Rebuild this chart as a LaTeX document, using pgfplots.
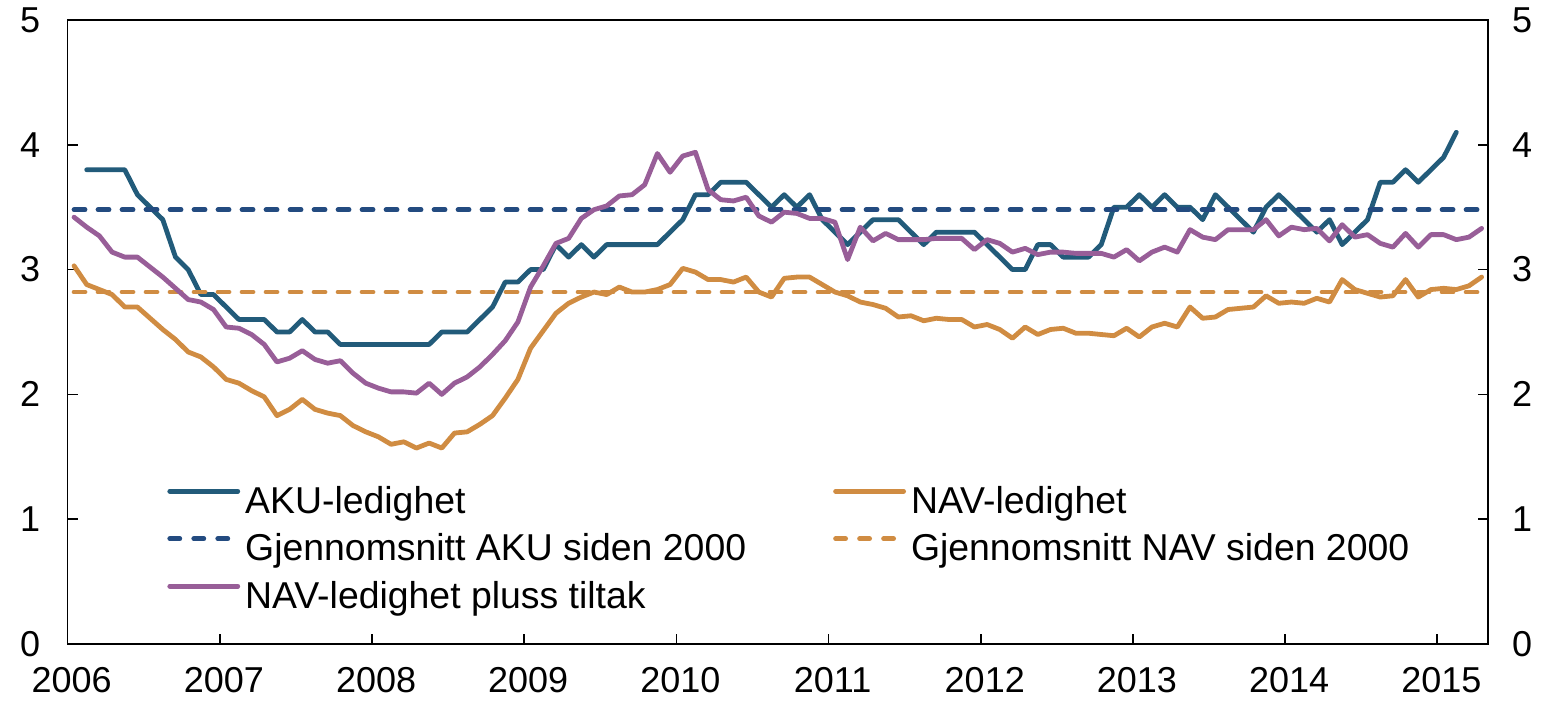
\documentclass[border=0pt]{standalone}
\usepackage{pgfplots}
\usepackage{pgfplotstable}
\pgfplotsset{compat=1.18}
\usepackage{fontspec}
\setmainfont{Liberation Sans}
\definecolor{aku}{HTML}{225B7A}
\definecolor{akuavg}{HTML}{234B80}
\definecolor{nav}{HTML}{D08C42}
\definecolor{tiltak}{HTML}{985E98}

\pgfplotstableread{
i v
1 3.8
2 3.8
3 3.8
4 3.8
5 3.6
6 3.5
7 3.4
8 3.1
9 3.0
10 2.8
11 2.8
12 2.7
13 2.6
14 2.6
15 2.6
16 2.5
17 2.5
18 2.6
19 2.5
20 2.5
21 2.4
22 2.4
23 2.4
24 2.4
25 2.4
26 2.4
27 2.4
28 2.4
29 2.5
30 2.5
31 2.5
32 2.6
33 2.7
34 2.9
35 2.9
36 3.0
37 3.0
38 3.2
39 3.1
40 3.2
41 3.1
42 3.2
43 3.2
44 3.2
45 3.2
46 3.2
47 3.3
48 3.4
49 3.6
50 3.6
51 3.7
52 3.7
53 3.7
54 3.6
55 3.5
56 3.6
57 3.5
58 3.6
59 3.4
60 3.3
61 3.2
62 3.3
63 3.4
64 3.4
65 3.4
66 3.3
67 3.2
68 3.3
69 3.3
70 3.3
71 3.3
72 3.2
73 3.1
74 3.0
75 3.0
76 3.2
77 3.2
78 3.1
79 3.1
80 3.1
81 3.2
82 3.5
83 3.5
84 3.6
85 3.5
86 3.6
87 3.5
88 3.5
89 3.4
90 3.6
91 3.5
92 3.4
93 3.3
94 3.5
95 3.6
96 3.5
97 3.4
98 3.3
99 3.4
100 3.2
101 3.3
102 3.4
103 3.7
104 3.7
105 3.8
106 3.7
107 3.8
108 3.9
109 4.1
}\akudata

\pgfplotstableread{
i v
0 3.03
1 2.88
2 2.84
3 2.80
4 2.70
5 2.70
6 2.61
7 2.52
8 2.44
9 2.34
10 2.30
11 2.22
12 2.12
13 2.09
14 2.03
15 1.98
16 1.83
17 1.88
18 1.96
19 1.88
20 1.85
21 1.83
22 1.75
23 1.70
24 1.66
25 1.60
26 1.62
27 1.57
28 1.61
29 1.57
30 1.69
31 1.70
32 1.76
33 1.83
34 1.97
35 2.12
36 2.37
37 2.51
38 2.65
39 2.73
40 2.78
41 2.82
42 2.80
43 2.86
44 2.82
45 2.82
46 2.84
47 2.88
48 3.01
49 2.98
50 2.92
51 2.92
52 2.90
53 2.94
54 2.82
55 2.78
56 2.93
57 2.94
58 2.94
59 2.88
60 2.82
61 2.79
62 2.74
63 2.72
64 2.69
65 2.62
66 2.63
67 2.59
68 2.61
69 2.60
70 2.60
71 2.54
72 2.56
73 2.52
74 2.45
75 2.54
76 2.48
77 2.52
78 2.53
79 2.49
80 2.49
81 2.48
82 2.47
83 2.53
84 2.46
85 2.54
86 2.57
87 2.54
88 2.70
89 2.61
90 2.62
91 2.68
92 2.69
93 2.70
94 2.79
95 2.73
96 2.74
97 2.73
98 2.77
99 2.74
100 2.92
101 2.84
102 2.81
103 2.78
104 2.79
105 2.92
106 2.78
107 2.84
108 2.85
109 2.84
110 2.87
111 2.94
}\navdata

\pgfplotstableread{
i v
0 3.42
1 3.34
2 3.27
3 3.14
4 3.10
5 3.10
6 3.02
7 2.94
8 2.85
9 2.76
10 2.74
11 2.68
12 2.54
13 2.53
14 2.48
15 2.40
16 2.26
17 2.29
18 2.35
19 2.28
20 2.25
21 2.27
22 2.17
23 2.09
24 2.05
25 2.02
26 2.02
27 2.01
28 2.09
29 2.00
30 2.09
31 2.14
32 2.22
33 2.32
34 2.43
35 2.58
36 2.86
37 3.03
38 3.21
39 3.25
40 3.41
41 3.48
42 3.51
43 3.59
44 3.60
45 3.68
46 3.93
47 3.78
48 3.91
49 3.94
50 3.64
51 3.56
52 3.55
53 3.58
54 3.43
55 3.38
56 3.46
57 3.45
58 3.41
59 3.41
60 3.38
61 3.08
62 3.34
63 3.23
64 3.29
65 3.24
66 3.24
67 3.24
68 3.25
69 3.25
70 3.25
71 3.16
72 3.24
73 3.21
74 3.14
75 3.17
76 3.12
77 3.14
78 3.14
79 3.13
80 3.13
81 3.13
82 3.10
83 3.16
84 3.07
85 3.14
86 3.18
87 3.14
88 3.32
89 3.26
90 3.24
91 3.32
92 3.32
93 3.32
94 3.40
95 3.27
96 3.34
97 3.32
98 3.33
99 3.23
100 3.36
101 3.26
102 3.28
103 3.21
104 3.18
105 3.29
106 3.18
107 3.28
108 3.28
109 3.24
110 3.26
111 3.33
}\tiltakdata

\newcommand{\tickfont}{\fontsize{18}{21}\selectfont}
\newcommand{\legfont}{\fontsize{18.7}{22}\selectfont}

\begin{document}
\begin{tikzpicture}
\useasboundingbox (-33.85pt,-30.5pt) rectangle (740.15pt,322pt);
\begin{axis}[
  scale only axis,
  width=710.15pt, height=312pt,
  xmin=2006, xmax=2015.3333,
  ymin=0, ymax=5,
  xtick={2006,2007,2008,2009,2010,2011,2012,2013,2014,2015},
  ytick={0,1,2,3,4,5},
  xtick pos=bottom, ytick pos=left,
  tick align=inside,
  major tick length=5pt,
  axis line style={line width=0.8pt},
  tick style={line width=0.8pt, black},
  /pgf/number format/1000 sep={},
  /pgf/number format/assume math mode=true,
  tick label style={font=\tickfont},
  yticklabel style={xshift=-10.3pt},
  xticklabel style={yshift=-8pt, xshift=2pt},
  legend columns=2,
  legend cell align=left,
  legend style={draw=none, fill=none, at={(0.0699,0.2535)}, anchor=north west,
    font=\legfont, inner sep=0pt,
    nodes={inner sep=0pt, text height=13.6pt, text depth=4pt},
    row sep=6.15pt,
    /tikz/every odd column/.style={column sep=2.5pt},
    /tikz/every even column/.style={column sep=43.5pt}},
  legend image code/.code={\draw[#1] (0pt,6.3pt) -- (34pt,6.3pt);},
  every axis plot/.append style={line width=2.4pt, line cap=round, line join=round},
]
\addplot[aku, forget plot] table[x expr={2006+(\thisrow{i}+0.5)/12}, y=v] {\akudata};
\addplot[nav, forget plot] table[x expr={2006+(\thisrow{i}+0.5)/12}, y=v] {\navdata};
\addplot[akuavg, dash pattern=on 5.5pt off 6.5pt, forget plot] coordinates {(2006.0417,3.48) (2015.2917,3.48)};
\addplot[nav, dash pattern=on 5.5pt off 6.5pt, forget plot] coordinates {(2006.0417,2.82) (2015.2917,2.82)};
\addplot[tiltak, forget plot] table[x expr={2006+(\thisrow{i}+0.5)/12}, y=v] {\tiltakdata};

\addlegendimage{aku, line width=2.4pt, line cap=round}
\addlegendentry{AKU-ledighet}
\addlegendimage{nav, line width=2.4pt, line cap=round}
\addlegendentry{NAV-ledighet}
\addlegendimage{akuavg, line width=2.4pt, line cap=round, dash pattern=on 5pt off 7pt}
\addlegendentry{Gjennomsnitt AKU siden 2000}
\addlegendimage{nav, line width=2.4pt, line cap=round, dash pattern=on 5pt off 7pt}
\addlegendentry{Gjennomsnitt NAV siden 2000}
\addlegendimage{tiltak, line width=2.4pt, line cap=round}
\addlegendentry{NAV-ledighet pluss tiltak}
\end{axis}
\begin{axis}[
  scale only axis,
  width=710.15pt, height=312pt,
  xmin=2006, xmax=2015.3333,
  ymin=0, ymax=5,
  xtick=\empty,
  ytick={0,1,2,3,4,5},
  ytick pos=right, yticklabel pos=right,
  tick align=inside,
  major tick length=5pt,
  axis line style={line width=0.8pt},
  tick style={line width=0.8pt, black},
  /pgf/number format/assume math mode=true,
  tick label style={font=\tickfont},
  yticklabel style={xshift=8.5pt},
]
\end{axis}
\end{tikzpicture}
\end{document}
